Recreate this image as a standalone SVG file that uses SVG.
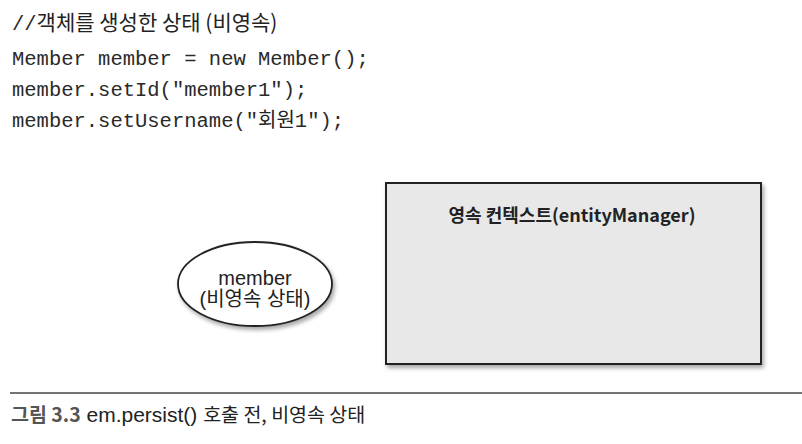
<svg xmlns="http://www.w3.org/2000/svg" width="802" height="444" viewBox="0 0 802 444">
  <defs>
    <filter id="shadow" x="-10%" y="-10%" width="125%" height="130%">
      <feGaussianBlur in="SourceAlpha" stdDeviation="2"/>
      <feOffset dx="2" dy="3" result="b"/>
      <feComponentTransfer><feFuncA type="linear" slope="0.35"/></feComponentTransfer>
      <feMerge><feMergeNode/><feMergeNode in="SourceGraphic"/></feMerge>
    </filter>
  </defs>
  <style>
    .code { font-family: "Liberation Mono", "Noto Sans CJK KR", monospace; font-size: 20.5px; fill: #2a2a2a; }
    .kr { font-family: "Noto Sans CJK KR", "Noto Sans", sans-serif; fill: #222; }
    .node { font-family: "Liberation Sans", "Noto Sans CJK KR", sans-serif; font-size: 20px; fill: #222; }
  </style>
  <rect width="802" height="444" fill="#ffffff"/>

  <g id="code">
    <text x="12" y="30" class="code"><tspan>//</tspan><tspan class="kr" font-size="21px">객체를 생성한 상태 (비영속)</tspan></text>
    <text x="12" y="65" class="code">Member member = new Member();</text>
    <text x="12" y="96" class="code">member.setId("member1");</text>
    <text x="12" y="127" class="code">member.setUsername("<tspan class="kr" font-size="20px">회원</tspan>1");</text>
  </g>

  <g id="persistence-context">
    <rect x="386" y="183" width="375" height="181" fill="#e8e8e8" stroke="#222" stroke-width="2" filter="url(#shadow)"/>
    <text x="572" y="222" text-anchor="middle" class="kr" font-size="18px" font-weight="bold">영속 컨텍스트(entityManager)</text>
  </g>

  <g id="member">
    <ellipse cx="255" cy="284" rx="77" ry="42" fill="#ffffff" stroke="#222" stroke-width="1.8" filter="url(#shadow)"/>
    <text x="255" y="285" text-anchor="middle" class="node">member</text>
    <text x="255" y="306" text-anchor="middle" class="node">(비영속 상태)</text>
  </g>

  <g id="connectors"></g>

  <g id="caption">
    <line x1="10" y1="393" x2="802" y2="393" stroke="#444" stroke-width="1.5"/>
    <text x="11" y="422" class="kr" font-size="19.5px"><tspan font-weight="bold" fill="#555">그림 3.3</tspan><tspan fill="#222" font-family="Liberation Sans, sans-serif" font-size="21px"> em.persist() </tspan><tspan fill="#222">호출 전, 비영속 상태</tspan></text>
  </g>
</svg>
